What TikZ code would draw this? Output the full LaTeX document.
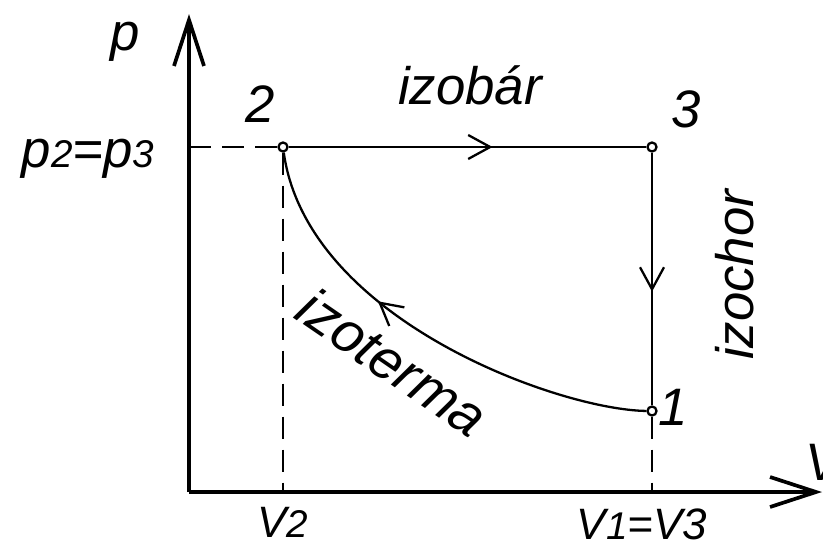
\documentclass[tikz,border=0pt]{standalone}
\usepackage{fontspec}
\setmainfont{Liberation Sans}
\usepackage{tikz}
\usetikzlibrary{arrows.meta, decorations.markings}

\newcommand{\sm}[1]{{\fontsize{11}{11}\selectfont #1}}

\begin{document}
\begin{tikzpicture}[every node/.style={font=\fontsize{15}{18}\selectfont\itshape},
  axis/.style={line width=1.05pt, -{Straight Barb[length=4.6mm, width=3.0mm, line width=1.05pt]}},
  proc/.style={line width=0.65pt},
  guide/.style={line width=0.8pt, dash pattern=on 2.2mm off 1.1mm},
  pstate/.style={circle, draw, line width=0.65pt, fill=white, inner sep=0pt, minimum size=0.9mm},
  midarrow/.style={postaction={decorate, decoration={markings,
      mark=at position #1 with {\arrow{Straight Barb[length=2.2mm, width=2.4mm, line width=0.65pt]}}}}}]
\useasboundingbox (0,0) rectangle (8.23,5.45);
% Axes
\coordinate (o) at (1.89,0.53);
\coordinate (ptip) at (1.89,5.31);
\coordinate (vtip) at (8.22,0.53);
\draw[axis] (o) -- (ptip);
\draw[axis] (o) -- (vtip);
\node (plab) at (1.25,5.03) {p};
\node (vlab) at (8.23,0.83) {V};
% States
\node[pstate] (s2) at (2.83,3.98) {};
\node[pstate] (s3) at (6.52,3.98) {};
\node[pstate] (s1) at (6.52,1.34) {};
\node (n2) at (2.60,4.41) {2};
\node (n3) at (6.86,4.36) {3};
\node (n1) at (6.73,1.38) {1};
% Guide lines to the axes
\coordinate (pax) at (1.89,3.98);
\coordinate (v2ax) at (2.83,0.53);
\coordinate (v1ax) at (6.52,0.53);
\draw[guide] (pax) -- (s2);
\draw[guide] (s2) -- (v2ax);
\draw[guide] (s1) -- (v1ax);
\node (p23) at (0.88,3.86) {p\sm{2}=p\sm{3}};
\node[font=\fontsize{12.5}{14}\selectfont\itshape] (v2) at (2.83,0.23) {V\sm{2}};
\node[font=\fontsize{12.5}{14}\selectfont\itshape] (v13) at (6.42,0.21) {V\sm{1}=V3};
% Processes: 2->3 isobaric, 3->1 isochoric, 1->2 isothermal
\draw[proc, midarrow=0.57] (s2) -- (s3);
\draw[proc, midarrow=0.55] (s3) -- (s1);
\draw[proc, midarrow=0.62] (s1) .. controls (5.60,1.35) and (3.07,2.25) .. (s2);
\node (izobar) at (4.70,4.60) {izobár};
\node[rotate=90] (izochor) at (7.35,2.70) {izochor};
\node[rotate=-34.5, font=\fontsize{16}{18}\selectfont\itshape] (izoterma) at (3.93,1.83) {izoterma};
\end{tikzpicture}
\end{document}
